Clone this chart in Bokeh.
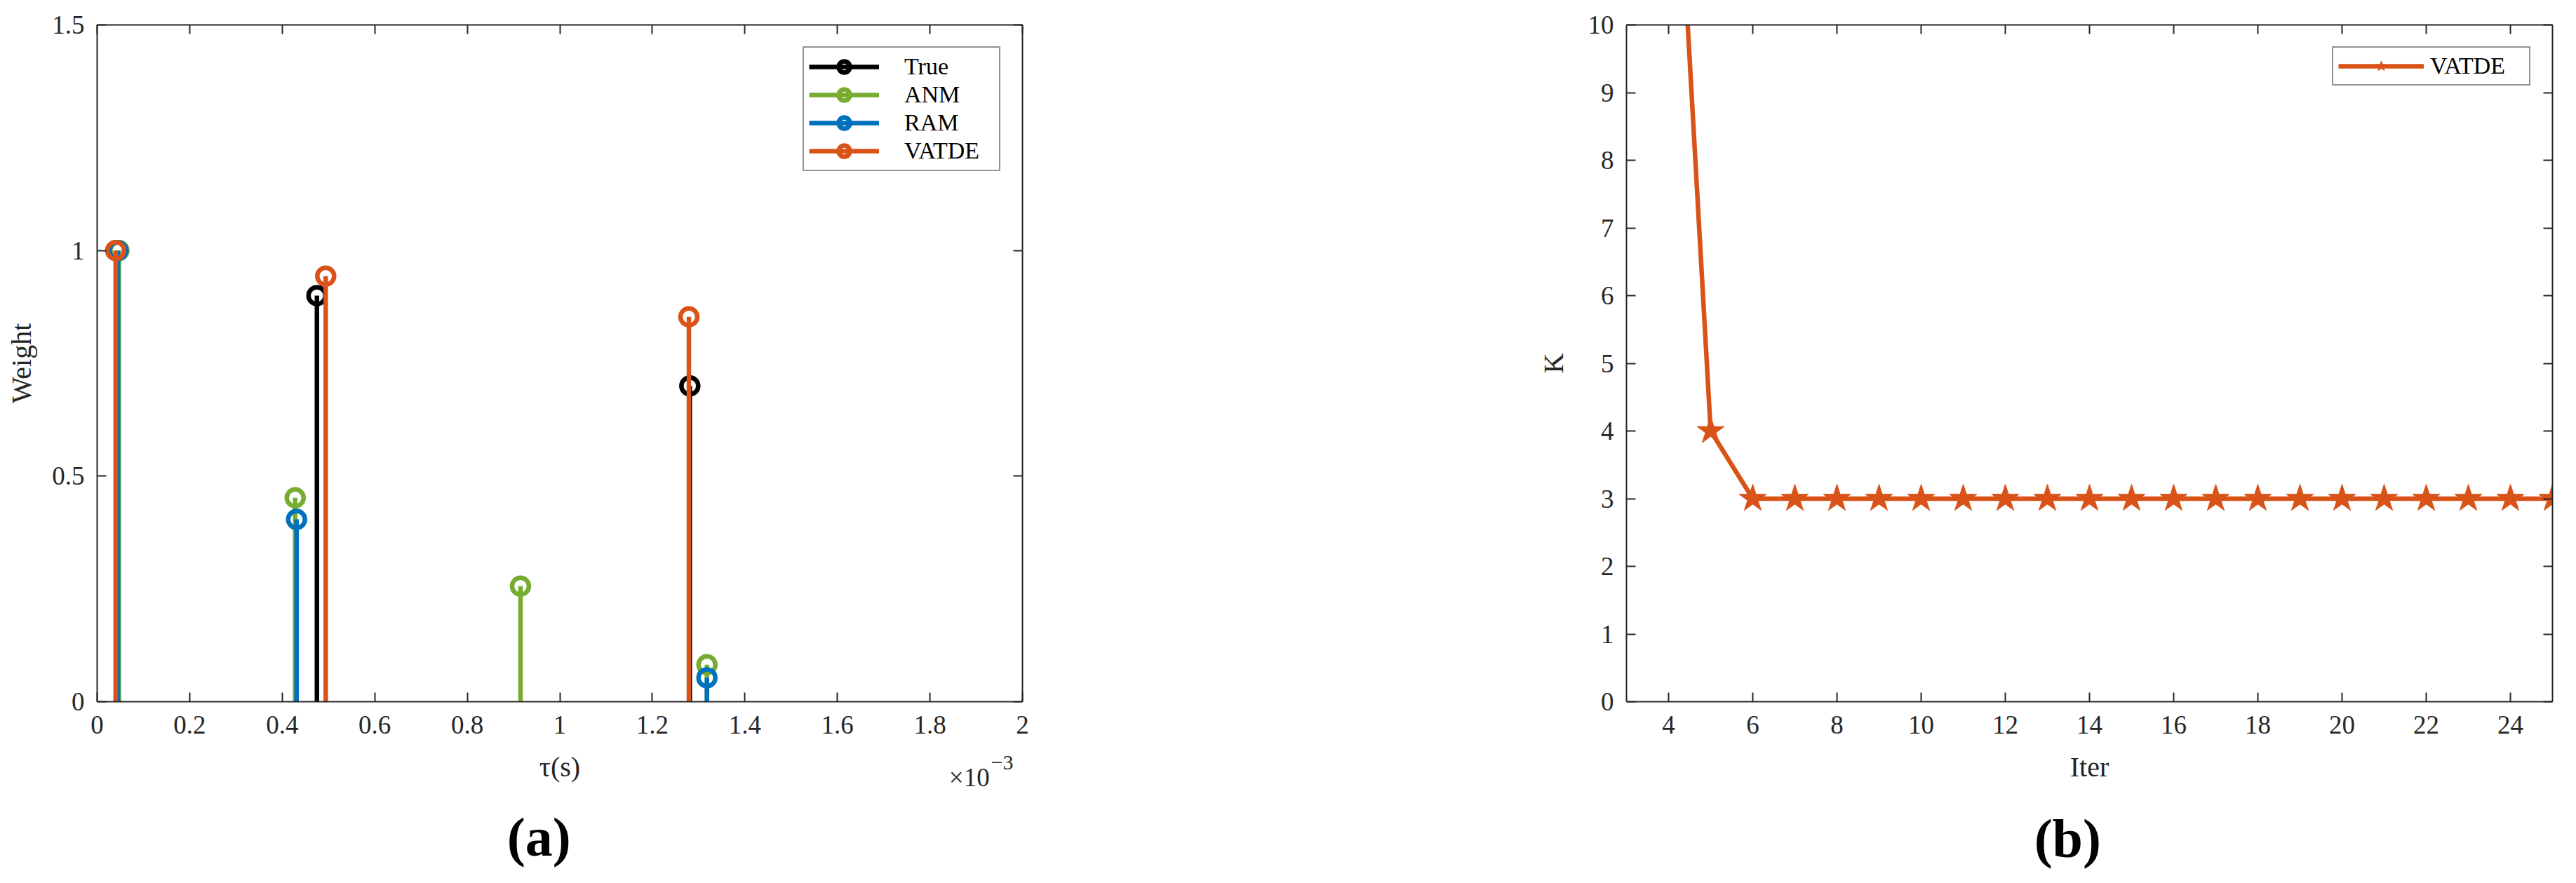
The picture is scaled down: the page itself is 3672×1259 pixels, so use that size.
from bokeh.plotting import figure
from bokeh.models import (ColumnDataSource, FixedTicker, LinearAxis, Range1d,
                          Legend, LegendItem, Label, CustomJSTickFormatter)
from bokeh.layouts import row
from bokeh.embed import file_html
from bokeh.resources import INLINE

# ---------------- Panel (a): delay (x 1e-3 s) vs weight ----------------
true_tau = [0.042, 0.475, 1.281]
true_w = [1.0, 0.900, 0.700]
anm_tau = [0.047, 0.428, 0.915, 1.318]
anm_w = [1.0, 0.452, 0.256, 0.082]
ram_tau = [0.045, 0.431, 1.318]
ram_w = [1.0, 0.404, 0.053]
vatde_tau = [0.040, 0.494, 1.279]
vatde_w = [1.0, 0.943, 0.853]

series_names = ["True", "ANM", "RAM", "VATDE"]
series_colors = ["#000000", "#77AC30", "#0072BD", "#D95319"]

xticks_a = [0, 0.2, 0.4, 0.6, 0.8, 1, 1.2, 1.4, 1.6, 1.8, 2]
yticks_a = [0, 0.5, 1, 1.5]
xlabel_a = "τ(s)"
ylabel_a = "Weight"
xscale_text = "×10"
xscale_exp = "−3"

# ---------------- Panel (b): iteration vs K ----------------
iters = [4, 5, 6, 7, 8, 9, 10, 11, 12, 13, 14, 15, 16, 17, 18, 19, 20, 21, 22, 23, 24, 25]
K = [15, 4, 3, 3, 3, 3, 3, 3, 3, 3, 3, 3, 3, 3, 3, 3, 3, 3, 3, 3, 3, 3]
xticks_b = [4, 6, 8, 10, 12, 14, 16, 18, 20, 22, 24]
yticks_b = [0, 1, 2, 3, 4, 5, 6, 7, 8, 9, 10]
xlabel_b = "Iter"
ylabel_b = "K"

AX = "#262626"
FONT = "Liberation Serif"
fmt_js = "return String(Math.round(tick*10)/10)"


def style_axis(ax, show):
    ax.axis_line_color = AX
    ax.axis_line_width = 2
    ax.major_tick_line_color = AX
    ax.major_tick_line_width = 2
    ax.major_tick_in = 13
    ax.major_tick_out = 0
    ax.minor_tick_line_color = None
    ax.major_label_text_font = FONT
    ax.major_label_text_color = AX
    ax.axis_label_text_font = FONT
    ax.axis_label_text_font_size = "40px"
    ax.axis_label_text_font_style = "normal"
    ax.axis_label_text_color = AX
    if show:
        ax.major_label_text_font_size = "37px"
        ax.formatter = CustomJSTickFormatter(code=fmt_js)
    else:
        ax.major_label_text_font_size = "0px"
        ax.major_label_standoff = 0
        ax.formatter = CustomJSTickFormatter(code="return ''")


def add_axes(p, xt, yt, xlabel, ylabel, ylab_standoff):
    bottom = LinearAxis(ticker=FixedTicker(ticks=xt), axis_label=xlabel)
    style_axis(bottom, True)
    bottom.major_label_standoff = 20
    bottom.axis_label_standoff = 22
    left = LinearAxis(ticker=FixedTicker(ticks=yt), axis_label=ylabel)
    style_axis(left, True)
    left.major_label_standoff = 18
    left.axis_label_standoff = ylab_standoff
    top = LinearAxis(ticker=FixedTicker(ticks=xt))
    style_axis(top, False)
    right = LinearAxis(ticker=FixedTicker(ticks=yt))
    style_axis(right, False)
    p.add_layout(bottom, "below")
    p.add_layout(left, "left")
    p.add_layout(top, "above")
    p.add_layout(right, "right")


def make_fig(xr, yr, bl, br, fw):
    p = figure(frame_width=fw, frame_height=965,
               min_border_left=bl, min_border_right=br,
               min_border_top=35, min_border_bottom=243,
               x_range=xr, y_range=yr,
               x_axis_location=None, y_axis_location=None,
               output_backend="svg", toolbar_location=None)
    p.outline_line_color = None
    p.grid.visible = False
    p.background_fill_color = "white"
    p.border_fill_color = "white"
    return p


# ---------- figure (a) ----------
pa = make_fig(Range1d(0, 2), Range1d(0, 1.5), 138, 387, 1319)
add_axes(pa, xticks_a, yticks_a, xlabel_a, ylabel_a, 18)

taus = [true_tau, anm_tau, ram_tau, vatde_tau]
ws = [true_w, anm_w, ram_w, vatde_w]
items = []
for name, col, t, w in zip(series_names, series_colors, taus, ws):
    src = ColumnDataSource(dict(x=t, y=w, y0=[0] * len(t)))
    seg = pa.segment(x0="x", y0="y0", x1="x", y1="y", source=src,
                     line_color=col, line_width=6.5, line_cap="butt")
    sc = pa.scatter(x="x", y="y", source=src, marker="circle", size=24,
                    fill_color=None, line_color=col, line_width=6.5)
    items.append(LegendItem(label=name, renderers=[seg, sc]))

leg_a = Legend(items=items, location="top_right", margin=31, padding=7,
               spacing=0, glyph_width=100, glyph_height=40, label_height=40,
               label_width=128, label_standoff=36,
               label_text_font=FONT, label_text_font_size="34px",
               label_text_color="#000000",
               border_line_color=AX, border_line_width=2,
               background_fill_color="white", background_fill_alpha=1)
pa.add_layout(leg_a)

# texts outside the frame live in the side panel so they are not clipped
pa.add_layout(Label(x=1.929, y=-0.168, text=xscale_text, text_font=FONT,
                    text_font_size="37px", text_color=AX, text_align="right",
                    text_baseline="alphabetic"), "below")
pa.add_layout(Label(x=1.932, y=-0.136, text=xscale_exp, text_font=FONT,
                    text_font_size="30px", text_color=AX, text_align="left",
                    text_baseline="alphabetic"), "below")
pa.add_layout(Label(x=0.955, y=-0.300, text="(a)", text_font=FONT,
                    text_font_size="78px", text_font_style="bold",
                    text_color="#000000", text_align="center",
                    text_baseline="middle"), "below")

# ---------- figure (b) ----------
pb = make_fig(Range1d(3, 25), Range1d(0, 10), 474, 26, 1320)
add_axes(pb, xticks_b, yticks_b, xlabel_b, ylabel_b, 24)

srcb = ColumnDataSource(dict(x=iters, y=K))
ln = pb.line(x="x", y="y", source=srcb, line_color="#D95319", line_width=6.5)
st = pb.scatter(x="x", y="y", source=srcb, marker="star", size=41,
                fill_color="#D95319", line_color="#D95319", line_width=1)
leg_b = Legend(items=[LegendItem(label="VATDE", renderers=[ln, st])],
               location="top_right", margin=31, padding=7, spacing=0,
               glyph_width=122, glyph_height=38, label_height=38,
               label_width=134, label_standoff=9,
               label_text_font=FONT, label_text_font_size="34px",
               label_text_color="#000000",
               border_line_color=AX, border_line_width=2,
               background_fill_color="white", background_fill_alpha=1)
pb.add_layout(leg_b)
pb.add_layout(Label(x=13.48, y=-2.02, text="(b)", text_font=FONT,
                    text_font_size="78px", text_font_style="bold",
                    text_color="#000000", text_align="center",
                    text_baseline="middle"), "below")

layout = row(pa, pb)
open("out.html", "w").write(file_html(layout, INLINE))
